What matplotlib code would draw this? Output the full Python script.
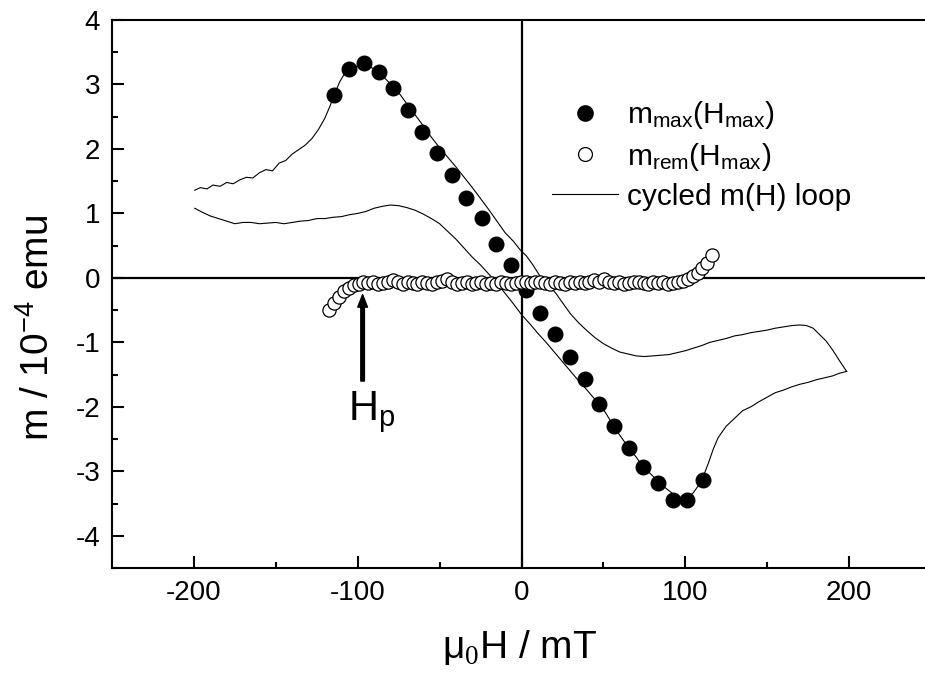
import matplotlib
matplotlib.use("Agg")
import matplotlib.pyplot as plt
from matplotlib.lines import Line2D

plt.rcParams["font.family"] = ["Liberation Sans", "DejaVu Sans"]
plt.rcParams["mathtext.fontset"] = "custom"
plt.rcParams["mathtext.rm"] = "Liberation Serif"
plt.rcParams["mathtext.sf"] = "Liberation Sans"
plt.rcParams["mathtext.it"] = "Liberation Sans:italic"
plt.rcParams["axes.unicode_minus"] = False

# Cycled m(H) loop, branch swept from -200 mT up to +200 mT
loop_up_H = [-199.5, -196, -192, -188.4, -184, -180, -176, -172, -168, -164, -160,
             -156, -152, -148, -144, -140, -136, -132, -128, -124, -120, -117, -114,
             -111, -108, -105, -102, -99, -96.5, -93, -90, -86, -82, -78, -74, -70,
             -65, -60, -55, -50, -45, -40, -35, -30, -25, -20, -15, -10, -5, -1, 3, 7,
             11, 16, 21, 26, 30, 35, 40, 45, 50, 55, 60, 65, 70, 75, 80, 85, 90, 95,
             100, 105, 110, 115, 120, 125, 130, 135, 140, 145, 150, 155, 160, 165, 170,
             174, 178, 182, 186, 190, 194, 198.5]
loop_up_m = [1.36, 1.40, 1.38, 1.44, 1.42, 1.48, 1.46, 1.52, 1.56, 1.55, 1.63,
             1.68, 1.66, 1.78, 1.82, 1.92, 1.99, 2.06, 2.16, 2.30, 2.48, 2.66, 2.86,
             3.04, 3.17, 3.24, 3.26, 3.30, 3.31, 3.28, 3.24, 3.16, 3.06, 2.95, 2.84, 2.70,
             2.53, 2.36, 2.18, 2.02, 1.87, 1.72, 1.56, 1.40, 1.23, 1.06, 0.88, 0.70, 0.57,
             0.44, 0.34, 0.20, 0.04, -0.10, -0.24, -0.42, -0.56, -0.70, -0.82, -0.93,
             -1.02, -1.09, -1.15, -1.18, -1.21, -1.22, -1.21, -1.20, -1.19, -1.16, -1.13,
             -1.09, -1.05, -1.00, -0.97, -0.94, -0.90, -0.88, -0.85, -0.83, -0.81, -0.78,
             -0.76, -0.74, -0.73, -0.74, -0.78, -0.88, -0.98, -1.12, -1.28, -1.45]

# Return branch, swept from +200 mT back down to -200 mT
loop_down_H = [198.5, 194, 190, 185, 180, 175, 170, 165, 160, 155, 150, 145, 140,
               135, 130, 125, 120, 117, 114, 111, 108, 105, 102, 99, 96, 93, 90, 86,
               82, 78, 74, 70, 65, 60, 56, 52, 48, 44, 40, 35, 30, 25, 20, 15, 10, 5, 0,
               -5, -10, -15, -20, -25, -30, -35, -40, -45, -50, -55, -60, -65, -70, -75,
               -80, -85, -90, -95, -100, -105, -110, -115, -120, -125, -130, -135, -140,
               -145, -150, -155, -160, -165, -170, -175, -180, -185, -190, -195, -199.5]
loop_down_m = [-1.45, -1.48, -1.52, -1.55, -1.58, -1.62, -1.65, -1.69, -1.74, -1.78,
               -1.85, -1.92, -2.00, -2.06, -2.18, -2.30, -2.48, -2.66, -2.88, -3.08,
               -3.22, -3.33, -3.40, -3.42, -3.41, -3.36, -3.30, -3.22, -3.12, -3.02,
               -2.92, -2.78, -2.62, -2.44, -2.29, -2.12, -1.96, -1.86, -1.74, -1.60,
               -1.45, -1.30, -1.15, -1.00, -0.86, -0.71, -0.57, -0.40, -0.24, -0.08,
               0.06, 0.20, 0.32, 0.46, 0.60, 0.72, 0.84, 0.92, 0.99, 1.05, 1.09, 1.12,
               1.13, 1.11, 1.08, 1.03, 1.00, 0.98, 0.95, 0.94, 0.92, 0.92, 0.89, 0.88,
               0.86, 0.84, 0.86, 0.85, 0.84, 0.86, 0.86, 0.84, 0.88, 0.92, 0.96, 1.02,
               1.08]

# m_max(H_max)
Hmax = [-114.5, -105.5, -96.2, -87.1, -78.4, -69.5, -60.5, -51.3, -42.4, -33.6,
        -24.4, -15.5, -6.4, 2.6, 11.4, 20.3, 29.5, 38.5, 47.4, 56.2, 65.4, 74.3,
        83.5, 92.4, 101.2, 110.6]
m_max = [2.84, 3.24, 3.33, 3.19, 2.94, 2.60, 2.26, 1.93, 1.59, 1.245, 0.925, 0.52,
         0.20, -0.19, -0.54, -0.87, -1.22, -1.57, -1.95, -2.29, -2.64, -2.94, -3.18,
         -3.44, -3.44, -3.13]

# m_rem(H_max)
Hrem = [-117.5, -114.5, -111.5, -108.5, -105.5, -102.5, -99.5, -96.5, -93.5, -90.5,
        -87.5, -84.5, -81.5, -78.5, -75.5, -72.5, -69.5, -66.5, -63.5, -60.5, -57.5,
        -54.5, -51.5, -48.5, -45.5, -42.5, -39.5, -36.5, -33.5, -30.5, -27.5, -24.5,
        -21.5, -18.5, -15.5, -12.5, -9.5, -6.5, -3.5, -0.5, 2.5, 5.5, 8.5, 11.5, 14.5,
        17.5, 20.5, 23.5, 26.5, 29.5, 32.5, 35.5, 38.5, 41.5, 44.5, 47.5, 50.5, 53.5,
        56.5, 59.5, 62.5, 65.5, 68.5, 71.5, 74.5, 77.5, 80.5, 83.5, 86.5, 89.5, 92.5,
        95.5, 98.5, 101.5, 104.5, 107.5, 110.5, 113.5, 116.5]
m_rem = [-0.50, -0.39, -0.29, -0.21, -0.15, -0.11, -0.09, -0.07, -0.08, -0.07, -0.09,
         -0.08, -0.07, -0.03, -0.07, -0.09, -0.06, -0.08, -0.09, -0.07, -0.08, -0.09,
         -0.07, -0.05, -0.02, -0.07, -0.09, -0.08, -0.07, -0.09, -0.08, -0.07, -0.09,
         -0.08, -0.09, -0.07, -0.08, -0.09, -0.08, -0.07, -0.07, -0.08, -0.07, -0.06,
         -0.08, -0.09, -0.07, -0.08, -0.09, -0.07, -0.08, -0.06, -0.08, -0.07, -0.04,
         -0.06, -0.01, -0.06, -0.08, -0.07, -0.09, -0.08, -0.07, -0.06, -0.08, -0.09,
         -0.07, -0.08, -0.07, -0.09, -0.08, -0.07, -0.05, -0.02, 0.03, 0.08, 0.15,
         0.23, 0.35]

H_peak = -97.0

fig = plt.figure(figsize=(9.25, 6.8), dpi=100)
# the frame runs slightly past the right edge of the canvas
ax = fig.add_axes([112 / 925, 112 / 680, 819 / 925, 548 / 680])

ax.axhline(0, color="k", lw=1.6, zorder=1)
ax.axvline(0, color="k", lw=1.6, zorder=1)

ax.plot(loop_up_H, loop_up_m, color="k", lw=0.8, zorder=2)
ax.plot(loop_down_H, loop_down_m, color="k", lw=0.8, zorder=2)
ax.plot(Hmax, m_max, ls="none", marker="o", ms=10.5, mfc="k", mec="k", zorder=3)
ax.plot(Hrem, m_rem, ls="none", marker="o", ms=9.5, mfc="white", mec="k",
        mew=0.9, zorder=4)

ax.annotate("", xy=(H_peak, -0.26), xytext=(H_peak, -1.60),
            arrowprops=dict(width=2.6, headwidth=7, headlength=9,
                            facecolor="k", edgecolor="k", shrink=0))
ax.text(-91.5, -2.20, r"H$_{\mathsf{p}}$", fontsize=30, ha="center", va="baseline")

ax.set_xlim(-250, 250)
ax.set_ylim(-4.5, 4)
ax.set_xticks([-200, -100, 0, 100, 200])
ax.set_xticks([-150, -50, 50, 150], minor=True)
ax.set_yticks([-4, -3, -2, -1, 0, 1, 2, 3, 4])
ax.set_yticks([-4.5, -3.5, -2.5, -1.5, -0.5, 0.5, 1.5, 2.5, 3.5], minor=True)
ax.tick_params(which="both", direction="in", width=1.5, labelsize=20,
               top=False, right=False, pad=8.5)
ax.tick_params(which="major", length=8.5)
ax.tick_params(which="minor", length=4.3)
for s in ax.spines.values():
    s.set_linewidth(1.5)

ax.set_xlabel(r"μ$_{\mathrm{0}}$H / mT", fontsize=28, va="baseline")
ax.xaxis.set_label_coords(0.498, -0.164)
ax.set_ylabel(r"m / 10$^{\mathsf{-4}}$ emu", fontsize=28, va="center")
ax.yaxis.set_label_coords(-0.09, 0.439)

handles = [
    Line2D([], [], ls="none", marker="o", ms=11, mfc="k", mec="k"),
    Line2D([], [], ls="none", marker="o", ms=10, mfc="white", mec="k", mew=0.9),
    Line2D([], [], color="k", lw=0.8),
]
labels = [r"m$_{\mathsf{max}}$(H$_{\mathsf{max}}$)",
          r"m$_{\mathsf{rem}}$(H$_{\mathsf{max}}$)",
          "cycled m(H) loop"]
ax.legend(handles, labels, loc="upper left", bbox_to_anchor=(552 / 925, 1 - 99 / 680),
          bbox_transform=fig.transFigure, frameon=False, fontsize=21.5,
          borderpad=0, borderaxespad=0, handlelength=2.2, handletextpad=0.3,
          labelspacing=0.33)

fig.savefig("out.png", dpi=100)
